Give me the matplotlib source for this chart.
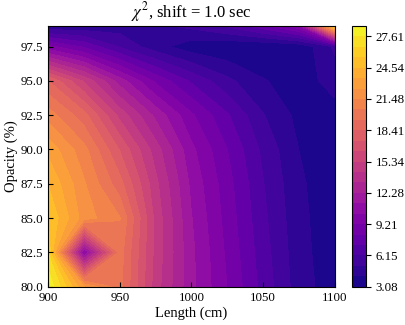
import matplotlib
matplotlib.use("Agg")
import matplotlib.pyplot as plt
import numpy as np

# grid of the scan
lengths = [900, 925, 950, 975, 1000, 1025, 1050, 1075, 1100]
opacities = [80.0, 82.5, 85.0, 87.5, 90.0, 92.5, 95.0, 97.5, 99.0]

# chi^2 values, one row per opacity (bottom to top)
chi_80 = [28.63, 22.5, 19.8, 14.8, 11.5, 9.2, 6.8, 4.6, 3.5]
chi_825 = [26.5, 10.0, 19.9, 15.0, 11.5, 9.0, 6.6, 4.5, 3.4]
chi_85 = [25.5, 22.0, 20.5, 15.0, 11.3, 8.8, 6.4, 4.4, 3.4]
chi_875 = [24.5, 21.6, 18.8, 14.6, 11.0, 8.6, 6.2, 4.3, 3.35]
chi_90 = [23.2, 20.8, 17.3, 13.8, 10.5, 8.2, 5.9, 4.1, 3.3]
chi_925 = [21.0, 18.8, 15.0, 12.0, 9.4, 7.3, 5.2, 3.8, 3.6]
chi_95 = [18.4, 15.2, 11.8, 9.0, 7.0, 5.4, 4.2, 3.5, 4.6]
chi_975 = [9.5, 8.0, 6.0, 4.5, 3.5, 3.2, 3.08, 3.3, 5.3]
chi_99 = [4.2, 4.3, 4.6, 4.9, 5.4, 6.3, 7.8, 10.0, 26.0]


def plot_chi2():
    plt.rcParams['font.family'] = ['Liberation Serif', 'DejaVu Serif']
    plt.rcParams['mathtext.fontset'] = 'stix'

    z = np.array([chi_80, chi_825, chi_85, chi_875, chi_90,
                  chi_925, chi_95, chi_975, chi_99])
    x, y = np.meshgrid(lengths, opacities)
    levels = np.linspace(z.min(), z.max(), 26)

    fig = plt.figure(figsize=(4.06, 3.25), dpi=100)
    ax = fig.add_axes([0.119, 0.118, 0.705, 0.802])
    cax = fig.add_axes([0.868, 0.118, 0.033, 0.802])

    cs = ax.contourf(x, y, z, levels=levels, cmap='plasma')
    cb = fig.colorbar(cs, cax=cax, format='%.2f')
    cb.ax.tick_params(labelsize=9.3)

    ax.set_title(r'$\chi^2$, shift = 1.0 sec', fontsize=12)
    ax.set_xlabel('Length (cm)', fontsize=10.5, labelpad=2)
    ax.set_ylabel('Opacity (%)', fontsize=10.5, labelpad=2)
    ax.set_xticks([900, 950, 1000, 1050, 1100])
    ax.set_yticks([80.0, 82.5, 85.0, 87.5, 90.0, 92.5, 95.0, 97.5])
    ax.yaxis.set_major_formatter(matplotlib.ticker.FormatStrFormatter('%.1f'))
    ax.tick_params(direction='in', labelsize=9.3)

    fig.savefig('out.png', dpi=100)


if __name__ == '__main__':
    plot_chi2()
